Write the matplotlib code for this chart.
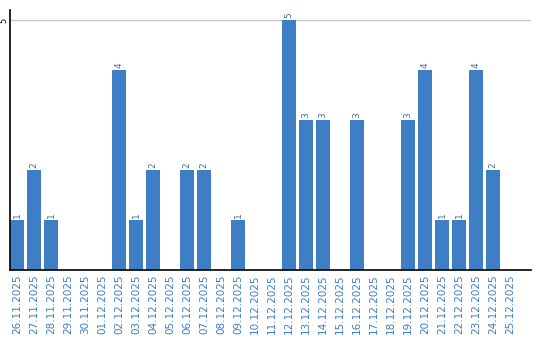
import matplotlib
matplotlib.use('Agg')
import matplotlib.pyplot as plt

dates = ['26.11.2025', '27.11.2025', '28.11.2025', '29.11.2025', '30.11.2025',
         '01.12.2025', '02.12.2025', '03.12.2025', '04.12.2025', '05.12.2025',
         '06.12.2025', '07.12.2025', '08.12.2025', '09.12.2025', '10.12.2025',
         '11.12.2025', '12.12.2025', '13.12.2025', '14.12.2025', '15.12.2025',
         '16.12.2025', '17.12.2025', '18.12.2025', '19.12.2025', '20.12.2025',
         '21.12.2025', '22.12.2025', '23.12.2025', '24.12.2025', '25.12.2025']
counts = [1, 2, 1, 0, 0, 0, 4, 1, 2, 0,
          2, 2, 0, 1, 0, 0, 5, 3, 3, 0,
          3, 0, 0, 3, 4, 1, 1, 4, 2, 0]

bar_color = '#3d7ec4'

fig = plt.figure(figsize=(5.4, 3.4), dpi=100)
ax = fig.add_axes([10 / 540, 70 / 340, 521 / 540, 260 / 340])

x = list(range(len(dates)))
width = 14 / 17
ax.bar(x, counts, width=width, color=bar_color, zorder=2)

# value labels on top of non-zero bars
for xi, v in zip(x, counts):
    if v > 0:
        ax.text(xi, v + 0.04, str(v), rotation=90, ha='center', va='bottom',
                fontsize=6.5, color='#4a6d94', zorder=3)

ax.set_xlim(-width / 2, -width / 2 + 521 / 17)
ax.set_ylim(0, 5.2)

ax.set_yticks([5])
ax.set_yticklabels(['5'], rotation=90, va='center', fontsize=6)
ax.axhline(5, color='#c8c8c8', lw=1, zorder=1)
ax.tick_params(axis='y', length=0, pad=1)

ax.set_xticks(x)
ax.set_xticklabels(dates, rotation=90, fontsize=7.5, color='#3d7ec4')
ax.tick_params(axis='x', length=0, pad=3)

for side in ['top', 'right']:
    ax.spines[side].set_visible(False)
for side in ['left', 'bottom']:
    ax.spines[side].set_color('black')
    ax.spines[side].set_linewidth(1.2)

fig.savefig('out.png', dpi=100)
